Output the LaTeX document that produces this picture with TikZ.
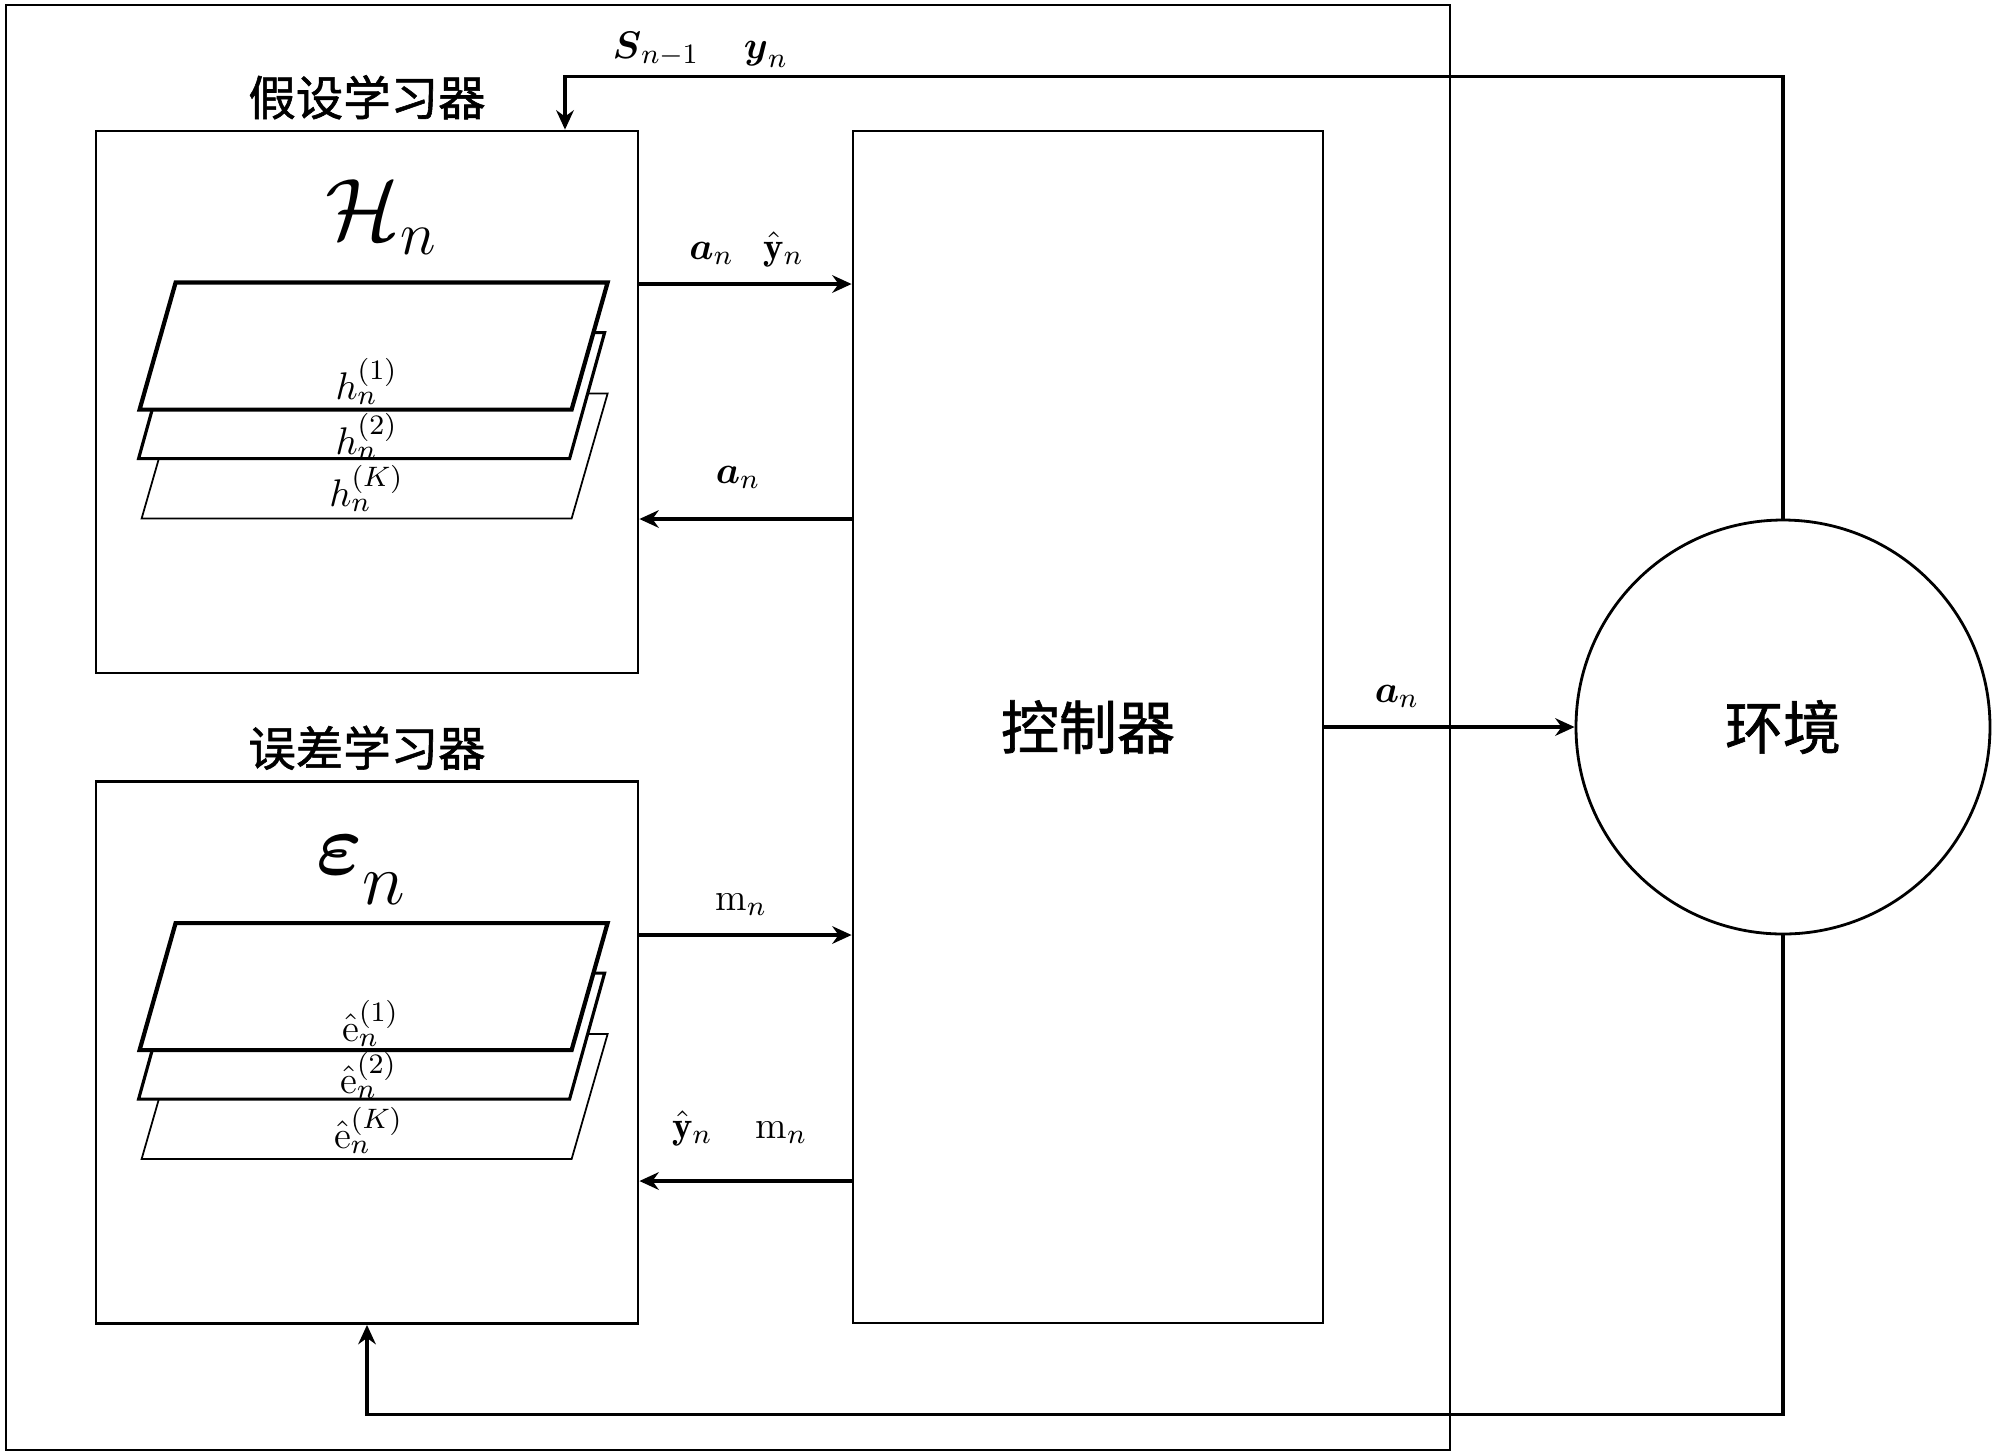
\documentclass[tikz,border=0pt]{standalone}
\usepackage{amsmath}
\usepackage{fontspec}
\newfontfamily\cjk[FakeBold=1.2]{Noto Sans CJK SC}
\usetikzlibrary{positioning, arrows.meta}

\begin{document}
\begin{tikzpicture}[
      box/.style={draw, line width=0.8pt, inner sep=0pt},
      learner/.style={box, minimum width=5.42cm, minimum height=5.42cm},
      title/.style={font=\cjk\fontsize{13.5}{16}\selectfont, inner sep=1pt},
      bigtext/.style={font=\cjk\fontsize{16.5}{20}\selectfont},
      plane/.style={draw, fill=white},
      plab/.style={font=\fontsize{11}{13}\selectfont, inner sep=1pt},
      lab/.style={plab, anchor=base},
      arr/.style={-{Stealth[length=5.5pt, width=5pt]}, line width=0.9pt},
    ]
    \useasboundingbox (0,0) rectangle (20,-14.54);

    %% --- System frame ---
    \draw[line width=0.8pt] (0.06,-0.05) rectangle (14.50,-14.50);

    %% --- Learners (left) ---
    \node[learner] (hyp) at (3.67,-4.02)   {};
    \node[learner] (err) at (3.67,-10.525) {};
    \node[title, above=0.06cm of hyp] (hyptitle) {假设学习器};
    \node[title, above=0.06cm of err] (errtitle) {误差学习器};

    \node[font=\fontsize{24}{28}\selectfont] (hsym) at (3.81,-2.17)
    {$\mathcal{H}$\raisebox{-0.15cm}{\fontsize{19}{22}\selectfont$n$}};
    \node[font=\fontsize{24}{28}\selectfont] (esym) at (3.61,-8.70)
    {$\boldsymbol{\varepsilon}$\raisebox{-0.30cm}{\fontsize{20}{24}\selectfont$n$}};

    % stacked planes, back to front
    \foreach \lrn/\dy in {hyp/0cm, err/0.10cm} {
      \begin{scope}[shift={(\lrn.north west)}, yshift=\dy]
        \draw[plane, line width=0.5pt] (0.47,-3.89) -- ++(4.30,0) -- ++(0.36,1.25) -- ++(-4.30,0) -- cycle;
        \draw[plane, line width=0.9pt] (0.44,-3.29) -- ++(4.31,0) -- ++(0.35,1.26) -- ++(-4.31,0) -- cycle;
        \draw[plane, line width=1.2pt] (0.45,-2.80) -- ++(4.32,0) -- ++(0.36,1.27) -- ++(-4.32,0) -- cycle;
      \end{scope}
    }

    \node[plab] (h1) at ([shift={(2.72,-2.52)}]hyp.north west) {$h_n^{(1)}$};
    \node[plab] (h2) at ([shift={(2.72,-3.07)}]hyp.north west) {$h_n^{(2)}$};
    \node[plab] (hK) at ([shift={(2.72,-3.59)}]hyp.north west) {$h_n^{(K)}$};
    \node[plab] (e1) at ([shift={(2.76,-2.43)}]err.north west) {$\hat{\mathrm{e}}_n^{(1)}$};
    \node[plab] (e2) at ([shift={(2.74,-2.95)}]err.north west) {$\hat{\mathrm{e}}_n^{(2)}$};
    \node[plab] (eK) at ([shift={(2.74,-3.50)}]err.north west) {$\hat{\mathrm{e}}_n^{(K)}$};

    %% --- Controller and environment ---
    \node[box, bigtext, minimum width=4.70cm, minimum height=11.92cm] (ctrl) at (10.88,-7.27) {控制器};
    \node[box, bigtext, circle, minimum size=4.14cm] (env) at (17.83,-7.27) {环境};

    %% --- Learner <-> controller ---
    \coordinate (hout) at ([yshift=1.18cm]hyp.east);
    \coordinate (hin)  at ([yshift=-1.17cm]hyp.east);
    \coordinate (eout) at ([yshift=1.175cm]err.east);
    \coordinate (ein)  at ([yshift=-1.285cm]err.east);

    \draw[arr] (hout) -- (hout -| ctrl.west)
    node[lab, pos=0.34, yshift=0.25cm] (la1) {$\boldsymbol{a}_n$}
    node[lab, pos=0.68, yshift=0.25cm] (ly1) {$\hat{\mathbf{y}}_n$};
    \draw[arr] (hin -| ctrl.west) -- (hin)
    node[lab, pos=0.535, yshift=0.36cm] (la2) {$\boldsymbol{a}_n$};
    \draw[arr] (eout) -- (eout -| ctrl.west)
    node[lab, pos=0.48, yshift=0.25cm] (lm1) {$\mathrm{m}_n$};
    \draw[arr] (ein -| ctrl.west) -- (ein)
    node[lab, pos=0.75, yshift=0.43cm] (ly2) {$\hat{\mathbf{y}}_n$}
    node[lab, pos=0.33, yshift=0.43cm] (lm2) {$\mathrm{m}_n$};

    %% --- Controller -> environment, feedback loops ---
    \draw[arr] (ctrl) -- (env)
    node[lab, pos=0.29, yshift=0.25cm] (la3) {$\boldsymbol{a}_n$};
    \draw[arr] (env.north) -- ++(0,4.42) -| ([xshift=1.98cm]hyp.north);
    \draw[arr] (env.south) -- ++(0,-4.79) -| (err.south);

    \node[lab] (lsprev) at (6.56,-0.58) {$\boldsymbol{S}_{n-1}$};
    \node[lab] (lyn)    at (7.66,-0.58) {$\boldsymbol{y}_n$};

  \end{tikzpicture}
\end{document}
